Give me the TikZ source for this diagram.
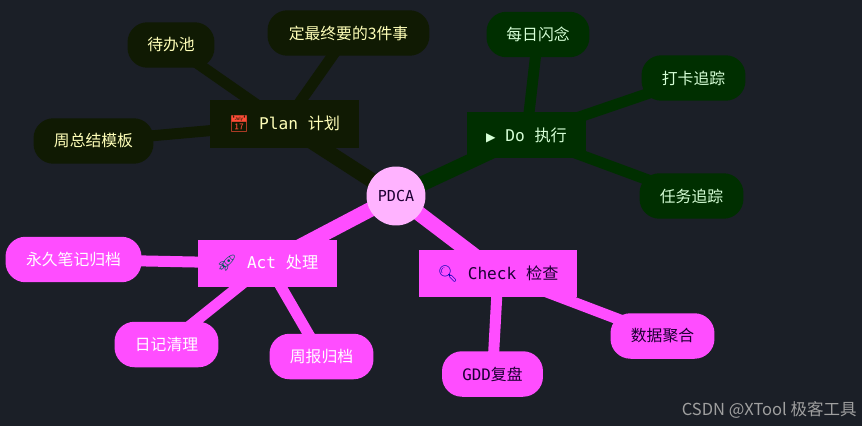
\documentclass[tikz,border=0pt]{standalone}
\usepackage{fontspec}
\usetikzlibrary{backgrounds}
\setmainfont{Noto Sans CJK SC}
\setmonofont{DejaVu Sans Mono}
\newfontfamily\cjkfont{Noto Sans CJK SC}
\newfontfamily\emojifont{Noto Emoji}
\newfontfamily\symbolfont{DejaVu Sans}
\definecolor{canvasdark}{HTML}{1B1F27}
\definecolor{planfill}{HTML}{101A03}
\definecolor{planink}{HTML}{FFFFB8}
\definecolor{dofill}{HTML}{002F00}
\definecolor{doink}{HTML}{D6FFD6}
\definecolor{actfill}{HTML}{FF4DFF}
\definecolor{checkink}{HTML}{1D0033}
\definecolor{rootfill}{HTML}{FFB3FF}
\newcommand{\zh}[1]{{\cjkfont #1}}
\begin{document}
\begin{tikzpicture}[
  x=0.02cm,y=-0.02cm,
  root/.style={circle,fill=rootfill,text=checkink,minimum size=1.18cm,inner sep=0pt,font=\ttfamily\fontsize{8.6}{10}\selectfont},
  branch/.style={rectangle,inner sep=0pt,font=\ttfamily\fontsize{9.2}{10}\selectfont},
  leaf/.style={rectangle,rounded corners=0.4cm,inner sep=0pt,minimum height=0.91cm,font=\cjkfont\fontsize{9}{10}\selectfont},
  planbox/.style={fill=planfill,text=planink},
  dobox/.style={fill=dofill,text=doink},
  actbox/.style={fill=actfill,text=white},
  checkbox/.style={fill=actfill,text=checkink},
  trunk/.style={line width=0.3cm},
  twig/.style={line width=0.22cm}
]
  \useasboundingbox (0,0) rectangle (862,426);

  \node[root] (pdca) at (396,196) {PDCA};

  % branches
  \node[branch,planbox,minimum width=2.98cm,minimum height=0.96cm] (plan) at (284.5,124) {{\emojifont\textcolor{red!70!planink}{📅}} Plan \zh{计划}};
  \node[branch,dobox,minimum width=2.4cm,minimum height=0.92cm] (do) at (526.5,135) {{\symbolfont\fontsize{7}{10}\selectfont ▶} Do \zh{执行}};
  \node[branch,actbox,minimum width=2.78cm,minimum height=0.96cm] (act) at (267.5,263.5) {{\emojifont\textcolor{teal!70!black}{🚀}} Act \zh{处理}};
  \node[branch,checkbox,minimum width=3.18cm,minimum height=0.96cm] (check) at (498,273.5) {{\emojifont\textcolor{blue!70!black}{🔍}} Check \zh{检查}};

  % leaves
  \node[leaf,planbox,minimum width=1.74cm] (todo) at (171,45) {待办池};
  \node[leaf,planbox,minimum width=3.24cm] (top) at (348.5,33) {定最终要的3件事};
  \node[leaf,planbox,minimum width=2.4cm] (review) at (93.5,141) {周总结模板};
  \node[leaf,dobox,minimum width=2.06cm] (flash) at (538,34.5) {每日闪念};
  \node[leaf,dobox,minimum width=2.08cm] (clock) at (693.5,78) {打卡追踪};
  \node[leaf,dobox,minimum width=2.08cm] (task) at (691.5,196) {任务追踪};
  \node[leaf,actbox,minimum width=2.72cm] (note) at (73.5,259.5) {永久笔记归档};
  \node[leaf,actbox,minimum width=2.08cm] (diary) at (166.5,344.5) {日记清理};
  \node[leaf,actbox,minimum width=2.08cm] (weekly) at (321.5,356.5) {周报归档};
  \node[leaf,checkbox,minimum width=2.02cm] (gdd) at (492.5,374) {{\ttfamily GDD}复盘};
  \node[leaf,checkbox,minimum width=2.08cm] (data) at (662.5,336) {数据聚合};

  \node[text=gray!75,anchor=east,inner sep=0pt,font=\cjkfont\fontsize{9.4}{10}\selectfont] (mark) at (857,410) {CSDN @XTool 极客工具};

  \begin{scope}[on background layer]
    \fill[canvasdark] (0,0) rectangle (862,426);
    \draw[trunk,planfill] (pdca.center) -- (plan.center);
    \draw[trunk,dofill] (pdca.center) -- (do.center);
    \draw[trunk,actfill] (pdca.center) -- (act.center);
    \draw[trunk,actfill] (pdca.center) -- (check.center);
    \draw[twig,planfill] (plan.center) -- (todo.center);
    \draw[twig,planfill] (plan.center) -- (top.center);
    \draw[twig,planfill] (plan.center) -- (review.center);
    \draw[twig,dofill] (do.center) -- (flash.center);
    \draw[twig,dofill] (do.center) -- (clock.center);
    \draw[twig,dofill] (do.center) -- (task.center);
    \draw[twig,actfill] (act.center) -- (note.center);
    \draw[twig,actfill] (act.center) -- (diary.center);
    \draw[twig,actfill] (act.center) -- (weekly.center);
    \draw[twig,actfill] (check.center) -- (gdd.center);
    \draw[twig,actfill] (check.center) -- (data.center);
  \end{scope}
\end{tikzpicture}
\end{document}
